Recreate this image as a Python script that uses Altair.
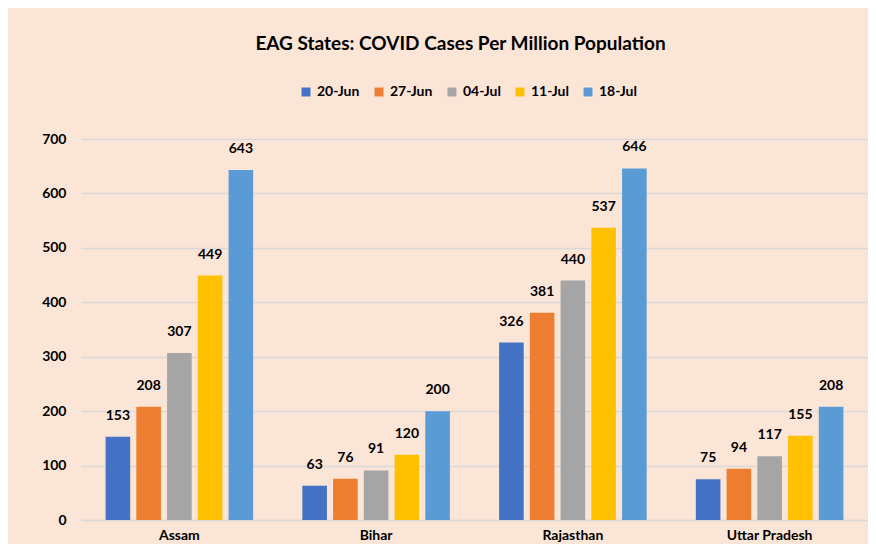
import altair as alt
import pandas as pd

states = ["Assam", "Bihar", "Rajasthan", "Uttar Pradesh"]
weeks = ["20-Jun", "27-Jun", "04-Jul", "11-Jul", "18-Jul"]
colors = ["#4472C4", "#ED7D31", "#A5A5A5", "#FFC000", "#5B9BD5"]
assam = [153, 208, 307, 449, 643]
bihar = [63, 76, 91, 120, 200]
rajasthan = [326, 381, 440, 537, 646]
uttar_pradesh = [75, 94, 117, 155, 208]

rows = []
for s, vals in zip(states, [assam, bihar, rajasthan, uttar_pradesh]):
    for w, v in zip(weeks, vals):
        rows.append({"state": s, "week": w, "value": v})
df = pd.DataFrame(rows)

FONT = "Lato"

x = alt.X("state:N", sort=states, title=None,
          scale=alt.Scale(paddingInner=0.25, paddingOuter=0.125),
          axis=alt.Axis(labelAngle=0, labelFont=FONT, labelFontSize=14, labelFontWeight="bold",
                        labelColor="#000000", ticks=False, domain=True, domainColor="#D9D9D9",
                        domainWidth=1.5, labelPadding=8))
xo = alt.XOffset("week:N", sort=weeks, scale=alt.Scale(paddingInner=0.2))
y = alt.Y("value:Q", title=None,
          scale=alt.Scale(domain=[0, 700]),
          axis=alt.Axis(values=[0, 100, 200, 300, 400, 500, 600, 700], labelFont=FONT,
                        labelFontSize=14, labelFontWeight="bold", labelColor="#000000",
                        ticks=False, domain=False, gridColor="#D9D9D9", gridWidth=1.5,
                        labelPadding=15))

color = alt.Color("week:N", sort=weeks, scale=alt.Scale(domain=weeks, range=colors),
                  legend=alt.Legend(title=None, orient="none", direction="horizontal",
                                    legendX=218, legendY=-54, symbolType="square",
                                    symbolSize=80, symbolStrokeWidth=0,
                                    labelFont=FONT, labelFontSize=14, labelFontWeight="bold",
                                    labelColor="#000000", columnPadding=12, labelOffset=4))

base = alt.Chart(df).encode(x=x, xOffset=xo, y=y)
bars = base.mark_bar().encode(color=color)
labels = base.mark_text(font=FONT, fontSize=14, fontWeight="bold", color="#000000",
                        baseline="middle", dy=-21).encode(text="value:Q")

chart = (bars + labels).properties(
    width=787, height=381,
    autosize=alt.AutoSizeParams(type="none"),
    padding={"left": 73, "top": 131, "right": 0, "bottom": 24},
    background="#FBE5D6",
    title=alt.TitleParams("EAG States: COVID Cases Per Million Population",
                          font=FONT, fontSize=19, fontWeight="bold", color="#000000",
                          anchor="middle", dx=-14, offset=31),
).configure_view(stroke=None)

chart.save("out.html", embed_options={"renderer": "svg", "actions": False})
